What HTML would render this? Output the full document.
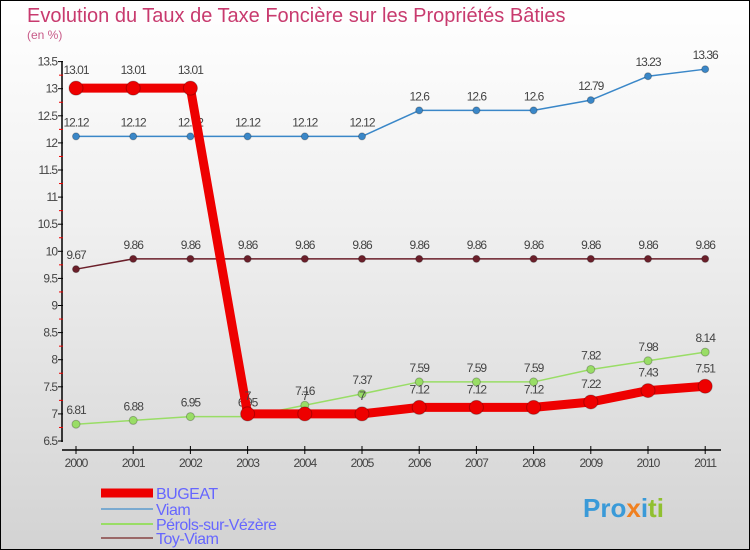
<!DOCTYPE html>
<html><head><meta charset="utf-8"><style>
body{margin:0;}
#wrap{position:relative;width:748px;height:548px;border:1px solid #000;background:linear-gradient(#fff 0%,#f0f0f0 40%,#d3d3d3 100%);overflow:hidden;font-family:"Liberation Sans",sans-serif;}
#title{position:absolute;left:26px;top:4px;font-size:20px;color:#c83a6e;}
#unit{position:absolute;left:26px;top:27px;font-size:12px;color:#c85a88;}
svg text{font-family:"Liberation Sans",sans-serif;}
</style></head><body>
<div id="wrap">
<div id="title">Evolution du Taux de Taxe Foncière sur les Propriétés Bâties</div>
<div id="unit">(en %)</div>
<svg id="chart" width="748" height="548" style="position:absolute;left:0;top:0"></svg>
</div>
<script>
const years=["2000","2001","2002","2003","2004","2005","2006","2007","2008","2009","2010","2011"];
const bugeat=[13.01,13.01,13.01,7,7,7,7.12,7.12,7.12,7.22,7.43,7.51];
const viam=[12.12,12.12,12.12,12.12,12.12,12.12,12.6,12.6,12.6,12.79,13.23,13.36];
const perols=[6.81,6.88,6.95,6.95,7.16,7.37,7.59,7.59,7.59,7.82,7.98,8.14];
const toy=[9.67,9.86,9.86,9.86,9.86,9.86,9.86,9.86,9.86,9.86,9.86,9.86];
const yTicks=[6.5,7,7.5,8,8.5,9,9.5,10,10.5,11,11.5,12,12.5,13,13.5];
const NS="http://www.w3.org/2000/svg";
const svg=document.getElementById('chart');
const X=i=>75+i*57.2;
const Y=v=>440-(v-6.5)*54.2;
function mk(t,a,p){const e=document.createElementNS(NS,t);for(const k in a)e.setAttribute(k,a[k]);(p||svg).appendChild(e);return e;}
// axes
const ax=mk('g',{});


mk('line',{x1:61,y1:60,x2:61,y2:441,stroke:'#000','stroke-width':1.5},ax);
mk('line',{x1:61,y1:449,x2:720,y2:449,stroke:'#000','stroke-width':1.5},ax);
yTicks.forEach((v,i)=>{
  const y=Y(v);
  mk('line',{x1:57,y1:y,x2:62,y2:y,stroke:'#000'},ax);
  if(i<yTicks.length-1) mk('line',{x1:58,y1:Y(v+0.25),x2:62,y2:Y(v+0.25),stroke:'#e00'},ax);
  const t=mk('text',{x:56,y:y+4,'text-anchor':'end','font-size':12,fill:'#444','letter-spacing':'-1'},ax);
  
  
  t.textContent=String(v);
});
years.forEach((yr,i)=>{
  mk('line',{x1:X(i),y1:445,x2:X(i),y2:453,stroke:'#000'},ax);
  const t=mk('text',{x:X(i),y:466,'text-anchor':'middle','font-size':12,fill:'#444','letter-spacing':'-1'},ax);
  
  
  t.textContent=yr;
});
function series(vals,color,w,r,name,labelOff){
  const g=mk('g',{});
  
  
  mk('polyline',{points:vals.map((v,i)=>X(i)+','+Y(v)).join(' '),fill:'none',stroke:color,'stroke-width':w,'stroke-linejoin':'round'},g);
  vals.forEach((v,i)=>{
    const c=mk('circle',{cx:X(i),cy:Y(v),r:r,fill:color,stroke:'rgba(0,0,0,0.25)','stroke-width':1},g);
    
    
    const t=mk('text',{x:X(i),y:Y(v)-labelOff,'text-anchor':'middle','font-size':12,fill:'#444','letter-spacing':'-1'},g);
    
    
    t.textContent=String(v);
  });
}
series(toy,'#6b1f2a',1.5,3.5,'toy-viam',10);
series(viam,'#3a87c8',1.5,3.5,'viam',10);
series(perols,'#99dd66',1.5,4,'perols',10);
series(bugeat,'#ee0000',9,7,'bugeat',14);
// legend
const lg=mk('g',{});


[['BUGEAT','#ee0000',9,492],['Viam','#7aaad0',2,508],['Pérols-sur-Vézère','#99dd66',2,523],['Toy-Viam','#9a6868',2,537]].forEach(([n,c,w,y])=>{
  const e=mk('g',{},lg);
  
  
  mk('line',{x1:100,y1:y,x2:152,y2:y,stroke:c,'stroke-width':w},e);
  const t=mk('text',{x:155,y:y+6,'font-size':16,fill:'#6666ff','letter-spacing':'-0.5'},e);
  t.textContent=n;
});
// logo
const lt=mk('text',{x:582,y:516,'font-size':26,'font-weight':'bold',fill:'#f0a020'});


lt.innerHTML='<tspan fill="#3a9ad8">Pro</tspan><tspan fill="#f08020">x</tspan><tspan fill="#3a9ad8">i</tspan><tspan fill="#90c030">ti</tspan>';
</script>
</body></html>
